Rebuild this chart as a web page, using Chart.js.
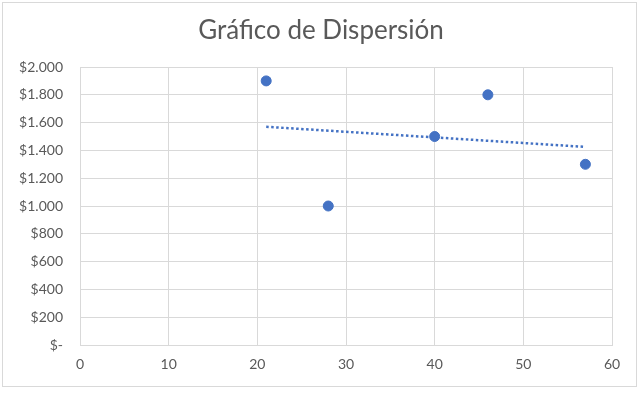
<!DOCTYPE html>
<html><head><meta charset="utf-8">
<script src="https://cdn.jsdelivr.net/npm/chart.js@4"></script>
<style>html,body{margin:0;padding:0;background:#fff}#w{width:643px;height:394px;position:relative}</style>
</head><body><div id="w"><canvas id="c" width="643" height="394"></canvas></div>
<script>
const titleText = "Gráfico de Dispersión";
const xValues = [21, 28, 40, 46, 57];
const yValues = [1900, 1000, 1500, 1800, 1300];
const trendX = [21, 57];
const trendY = [1570, 1425];
const xTicks = [0, 10, 20, 30, 40, 50, 60];
const yTickLabels = ["$-", "$200", "$400", "$600", "$800", "$1.000", "$1.200", "$1.400", "$1.600", "$1.800", "$2.000"];

const points = xValues.map((x, i) => ({x, y: yValues[i]}));
const trend = trendX.map((x, i) => ({x, y: trendY[i]}));
const blue = "#4472C4";
const txt = "#595959";
const grid = "#d9d9d9";

const frame = {
  id: 'frame',
  beforeDraw(chart) {
    const ctx = chart.ctx;
    ctx.save();
    ctx.fillStyle = '#fff';
    ctx.fillRect(0, 0, chart.width, chart.height);
    ctx.strokeStyle = grid;
    ctx.lineWidth = 1;
    ctx.strokeRect(2.5, 2.5, 634, 384);
    ctx.fillStyle = txt;
    ctx.font = '400 26px Lato';
    ctx.textAlign = 'center';
    ctx.textBaseline = 'middle';
    ctx.fillText(titleText, 321, 31);
    ctx.restore();
  }
};

new Chart(document.getElementById('c'), {
  type: 'scatter',
  data: {
    datasets: [
      {data: trend, type: 'line', borderColor: blue, borderWidth: 2.5, borderDash: [2.5, 2.5], pointRadius: 0, fill: false, order: 2},
      {data: points, backgroundColor: blue, borderColor: blue, pointRadius: 5, pointHoverRadius: 5, order: 1}
    ]
  },
  options: {
    responsive: false,
    animation: false,
    devicePixelRatio: 1,
    layout: {padding: {left: 0, right: 31, top: 67, bottom: 9}},
    plugins: {legend: {display: false}, tooltip: {enabled: false}, title: {display: false}},
    scales: {
      x: {
        type: 'linear', min: 0, max: 60,
        afterBuildTicks: s => { s.ticks = xTicks.map(v => ({value: v})); },
        grid: {color: grid, drawTicks: false},
        border: {color: grid},
        ticks: {color: txt, font: {family: 'Lato', size: 14}, padding: 11},
        afterFit: s => { s.height = 40; }
      },
      y: {
        min: 0, max: 2000,
        ticks: {stepSize: 200, color: txt, font: {family: 'Lato', size: 14}, padding: 17,
          callback: (v) => yTickLabels[Math.round(v / 200)]},
        grid: {color: grid, drawTicks: false},
        border: {color: grid},
        afterFit: s => { s.width = 80; }
      }
    }
  },
  plugins: [frame]
});
</script></body></html>
